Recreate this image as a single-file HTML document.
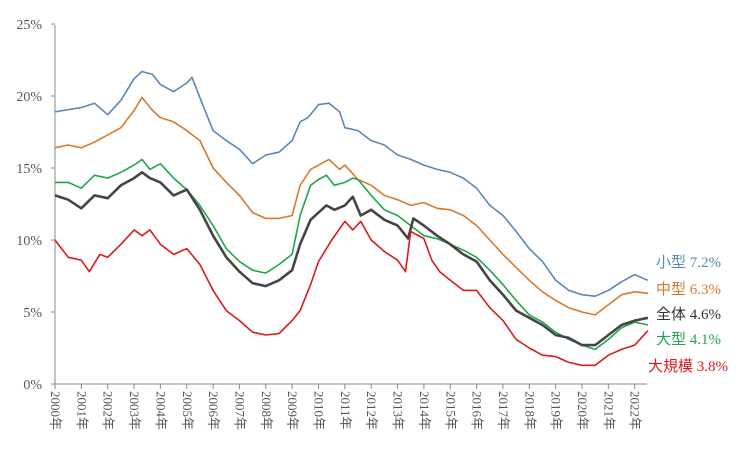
<!DOCTYPE html>
<html><head><meta charset="utf-8"><style>
body{margin:0;background:#fff}
svg{display:block}
text{font-family:"Liberation Serif","Noto Sans CJK JP",serif}
</style></head><body>
<svg id="chart" width="749" height="453" viewBox="0 0 749 453">
<g id="axes"></g>
<g id="series"></g>
<g id="legend"></g>
</svg>
<script>
const yTicks=[0,5,10,15,20,25];
const years=[2000,2001,2002,2003,2004,2005,2006,2007,2008,2009,2010,2011,2012,2013,2014,2015,2016,2017,2018,2019,2020,2021,2022];
const smallT=[2000,2001,2001.5,2002,2002.5,2003,2003.3,2003.7,2004,2004.5,2005,2005.2,2005.6,2006,2006.5,2007,2007.5,2008,2008.5,2009,2009.3,2009.6,2010,2010.4,2010.8,2011,2011.5,2012,2012.5,2013,2013.5,2014,2014.5,2015,2015.5,2016,2016.5,2017,2017.5,2018,2018.5,2019,2019.5,2020,2020.5,2021,2021.5,2022,2022.5];
const smallV=[18.9,19.2,19.5,18.7,19.7,21.2,21.7,21.5,20.8,20.3,20.9,21.3,19.4,17.6,16.9,16.3,15.3,15.9,16.1,16.9,18.2,18.5,19.4,19.5,18.9,17.8,17.6,16.9,16.6,15.9,15.6,15.2,14.9,14.7,14.3,13.6,12.4,11.7,10.6,9.4,8.5,7.2,6.5,6.2,6.1,6.5,7.1,7.6,7.2];
const midT=[2000,2000.5,2001,2001.5,2002,2002.5,2003,2003.3,2003.7,2004,2004.5,2005,2005.5,2006,2006.5,2007,2007.5,2008,2008.5,2009,2009.3,2009.7,2010,2010.4,2010.8,2011,2011.5,2012,2012.5,2013,2013.5,2014,2014.5,2015,2015.5,2016,2016.5,2017,2017.5,2018,2018.5,2019,2019.5,2020,2020.5,2021,2021.5,2022,2022.5];
const midV=[16.4,16.6,16.4,16.8,17.3,17.8,19.0,19.9,19.0,18.5,18.2,17.6,16.9,15.0,14.0,13.1,11.9,11.5,11.5,11.7,13.8,14.9,15.2,15.6,14.9,15.2,14.2,13.8,13.1,12.8,12.4,12.6,12.2,12.1,11.7,11.0,10.0,9.0,8.1,7.2,6.4,5.8,5.3,5.0,4.8,5.5,6.2,6.4,6.3];
const largeT=[2000,2000.5,2001,2001.5,2002,2002.5,2003,2003.3,2003.6,2004,2004.5,2005,2005.5,2006,2006.5,2007,2007.5,2008,2008.5,2009,2009.3,2009.7,2010,2010.3,2010.6,2011,2011.3,2011.5,2012,2012.5,2013,2013.5,2014,2014.5,2015,2015.5,2016,2016.5,2017,2017.5,2018,2018.5,2019,2019.5,2020,2020.5,2021,2021.5,2022,2022.5];
const largeV=[14.0,14.0,13.6,14.5,14.3,14.7,15.2,15.6,14.9,15.3,14.3,13.5,12.4,11.0,9.4,8.5,7.9,7.7,8.3,9.0,11.7,13.8,14.2,14.5,13.8,14.0,14.3,14.2,13.1,12.1,11.7,11.0,10.3,10.1,9.7,9.3,8.8,7.9,6.9,5.8,4.8,4.3,3.6,3.1,2.7,2.4,3.1,3.9,4.3,4.1];
const allT=[2000,2000.5,2001,2001.5,2002,2002.5,2003,2003.3,2003.6,2004,2004.5,2005,2005.5,2006,2006.5,2007,2007.5,2008,2008.5,2009,2009.3,2009.7,2010,2010.3,2010.6,2011,2011.3,2011.6,2012,2012.5,2013,2013.4,2013.6,2014,2014.5,2015,2015.5,2016,2016.5,2017,2017.5,2018,2018.5,2019,2019.5,2020,2020.5,2021,2021.5,2022,2022.5];
const allV=[13.1,12.8,12.2,13.1,12.9,13.8,14.3,14.7,14.3,14.0,13.1,13.5,12.1,10.3,8.8,7.8,7.0,6.8,7.2,7.9,9.7,11.4,11.9,12.4,12.1,12.4,13.0,11.7,12.1,11.4,11.0,10.1,11.5,11.0,10.3,9.7,9.0,8.5,7.2,6.2,5.1,4.6,4.1,3.4,3.2,2.7,2.7,3.4,4.1,4.4,4.6];
const hugeT=[2000,2000.5,2001,2001.3,2001.7,2002,2002.5,2003,2003.3,2003.6,2004,2004.5,2005,2005.5,2006,2006.5,2007,2007.5,2008,2008.5,2009,2009.3,2009.7,2010,2010.5,2011,2011.3,2011.6,2012,2012.5,2013,2013.3,2013.5,2014,2014.3,2014.6,2015,2015.5,2016,2016.5,2017,2017.5,2018,2018.5,2019,2019.5,2020,2020.5,2021,2021.5,2022,2022.5];
const hugeV=[10.0,8.8,8.6,7.8,9.0,8.8,9.7,10.7,10.3,10.7,9.7,9.0,9.4,8.3,6.5,5.1,4.4,3.6,3.4,3.5,4.4,5.1,6.9,8.5,10.0,11.3,10.7,11.3,10.0,9.2,8.6,7.8,10.6,10.1,8.6,7.8,7.2,6.5,6.5,5.3,4.4,3.1,2.5,2.0,1.9,1.5,1.3,1.3,2.0,2.4,2.7,3.7];
const labels=["小型 7.2%","中型 6.3%","全体 4.6%","大型 4.1%","大規模 3.8%"];

const NS="http://www.w3.org/2000/svg";
const X0=55,YR=26.35,Y0=384,PX=14.4;
function xs(t){return X0+(t-2000)*YR;}
function ys(v){return Y0-v*PX;}
function mk(tag,attrs,parent){const e=document.createElementNS(NS,tag);for(const k in attrs)e.setAttribute(k,attrs[k]);parent.appendChild(e);return e;}
const axes=document.getElementById('axes');
const ax=mk('line',{x1:X0,y1:25,x2:X0,y2:Y0,stroke:'#888','stroke-width':1},axes);


const bx=mk('line',{x1:X0,y1:Y0,x2:647,y2:Y0,stroke:'#888','stroke-width':1},axes);


yTicks.forEach(v=>{
  const tk=mk('line',{x1:X0-4,y1:ys(v),x2:X0,y2:ys(v),stroke:'#888'},axes);
  
  
  const t=mk('text',{x:X0-13,y:ys(v)+5,'text-anchor':'end','font-size':14,fill:'#555'},axes);
  t.textContent=v+'%';
  
  
});
years.forEach(y=>{
  const x=xs(y);
  const tk=mk('line',{x1:x,y1:Y0,x2:x,y2:Y0+5,stroke:'#888'},axes);
  
  
  const t=mk('text',{x:0,y:0,'font-size':13,fill:'#555',transform:`translate(${x-4},${Y0+7}) rotate(90)`},axes);
  t.textContent=y+'年';
  
  
});
const ser=[[smallT,smallV,'#5b87b8',1.6,'small-line'],[midT,midV,'#d9782a',1.6,'medium-line'],[largeT,largeV,'#1fa64a',1.6,'large-line'],[allT,allV,'#454545',2.6,'overall-line'],[hugeT,hugeV,'#d81c1c',1.6,'xlarge-line']];
const sg=document.getElementById('series');
ser.forEach(s=>{
  const d=s[0].map((t,i)=>(i?'L':'M')+xs(t).toFixed(1)+','+ys(s[1][i]).toFixed(1)).join('');
  const p=mk('path',{d:d,fill:'none',stroke:s[2],'stroke-width':s[3],'stroke-linejoin':'round'},sg);
  
  
});
const lg=document.getElementById('legend');
const lpos=[[656,267,'#5b87b8'],[656,294,'#d9782a'],[656,319,'#333'],[656,344,'#1fa64a'],[648,371,'#d81c1c']];
const lnames=['legend-small','legend-medium','legend-overall','legend-large','legend-xlarge'];
labels.forEach((l,i)=>{
  const t=mk('text',{x:lpos[i][0],y:lpos[i][1],'font-size':15,fill:lpos[i][2]},lg);
  t.textContent=l;
  
  
});
</script>
</body></html>
